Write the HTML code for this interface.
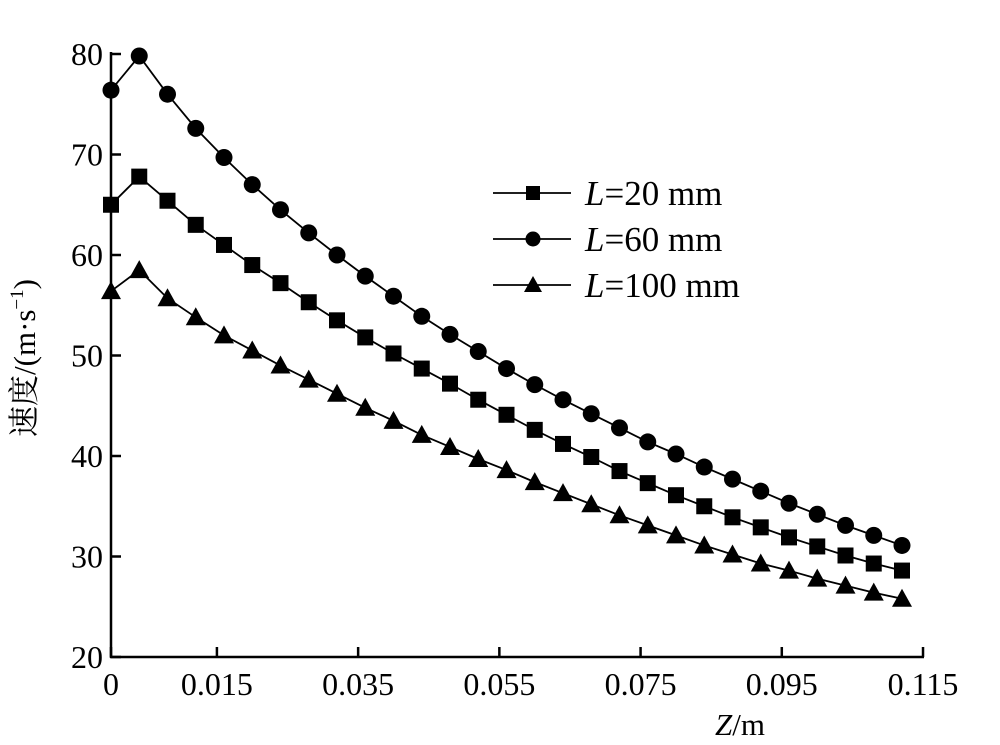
<!DOCTYPE html>
<html><head><meta charset="utf-8"><style>
html,body{margin:0;padding:0;background:#fff;}
svg{display:block;font-family:"Liberation Serif","Noto Serif CJK SC",serif;}
</style></head><body>
<svg id="s" width="1000" height="745" xmlns="http://www.w3.org/2000/svg">
<g stroke="#000" stroke-width="2.5" fill="none">
<line x1="111" y1="52" x2="111" y2="658"/>
<line x1="110" y1="657" x2="924" y2="657"/>
</g>
<g id="ticks" stroke="#000" stroke-width="2.5"></g>
<g id="labels" font-size="32" fill="#000"></g>
<g id="data"></g>
<text x="740" y="735" font-size="31" text-anchor="middle"><tspan font-style="italic">Z</tspan>/m</text>
<text transform="translate(35,358) rotate(-90)" font-size="31" text-anchor="middle">速度/(m·s<tspan font-size="19" dy="-12">−1</tspan><tspan dy="12">)</tspan></text>
<g font-size="35">
<line x1="493" y1="193" x2="571" y2="193" stroke="#000" stroke-width="1.8"/>
<rect x="526" y="186" width="14" height="14" fill="#000"/>
<text x="585" y="205"><tspan font-style="italic">L</tspan>=20 mm</text>
<line x1="493" y1="239" x2="571" y2="239" stroke="#000" stroke-width="1.8"/>
<circle cx="533" cy="239" r="7.5" fill="#000"/>
<text x="585" y="251"><tspan font-style="italic">L</tspan>=60 mm</text>
<line x1="493" y1="285" x2="571" y2="285" stroke="#000" stroke-width="1.8"/>
<polygon points="533,276 542,292 524,292" fill="#000"/>
<text x="585" y="297"><tspan font-style="italic">L</tspan>=100 mm</text>
</g>
</svg>
<script>
var NS="http://www.w3.org/2000/svg";
function el(t,a,p){var e=document.createElementNS(NS,t);for(var k in a)e.setAttribute(k,a[k]);p.appendChild(e);return e;}
var tk=document.getElementById('ticks'),lb=document.getElementById('labels'),dg=document.getElementById('data');
function Y(v){return 657-(v-20)*10.05;}
for(var v=20;v<=80;v+=10){var y=Y(v);el('line',{x1:111,y1:y,x2:121,y2:y},tk);
 var t=el('text',{x:103,y:y+11,'text-anchor':'end'},lb);t.textContent=v;}
var xs=[0,0.015,0.035,0.055,0.075,0.095,0.115];
xs.forEach(function(x){var px=111+x*7061;el('line',{x1:px,y1:657,x2:px,y2:647},tk);
 var t=el('text',{x:px,y:695,'text-anchor':'middle'},lb);t.textContent=(x===0?'0':x.toFixed(3));});
var sq=[65,67.8,65.4,63,61,59,57.2,55.3,53.5,51.8,50.2,48.7,47.2,45.6,44.1,42.6,41.2,39.9,38.5,37.3,36.1,35,33.9,32.9,31.9,31,30.1,29.3,28.6];
var ci=[76.4,79.8,76,72.6,69.7,67,64.5,62.2,60,57.9,55.9,53.9,52.1,50.4,48.7,47.1,45.6,44.2,42.8,41.4,40.2,38.9,37.7,36.5,35.3,34.2,33.1,32.1,31.1];
var tr=[56.4,58.5,55.7,53.8,52,50.5,49,47.6,46.2,44.8,43.5,42.1,40.9,39.7,38.6,37.4,36.3,35.2,34.1,33.1,32.1,31.1,30.2,29.3,28.6,27.8,27.1,26.4,25.8];
function X(i){return 111+i*28.25;}
[[sq,'s'],[ci,'c'],[tr,'t']].forEach(function(p){
 var d=p[0],pts=d.map(function(v,i){return X(i)+','+Y(v);}).join(' ');
 el('polyline',{points:pts,fill:'none',stroke:'#000','stroke-width':1.8},dg);
 d.forEach(function(v,i){var x=X(i),y=Y(v);
  if(p[1]=='s')el('rect',{x:x-8,y:y-8,width:16,height:16,fill:'#000'},dg);
  else if(p[1]=='c')el('circle',{cx:x,cy:y,r:8.5,fill:'#000'},dg);
  else el('polygon',{points:(x)+','+(y-10)+' '+(x+10)+','+(y+8)+' '+(x-10)+','+(y+8),fill:'#000'},dg);});
});
</script>
</body></html>
